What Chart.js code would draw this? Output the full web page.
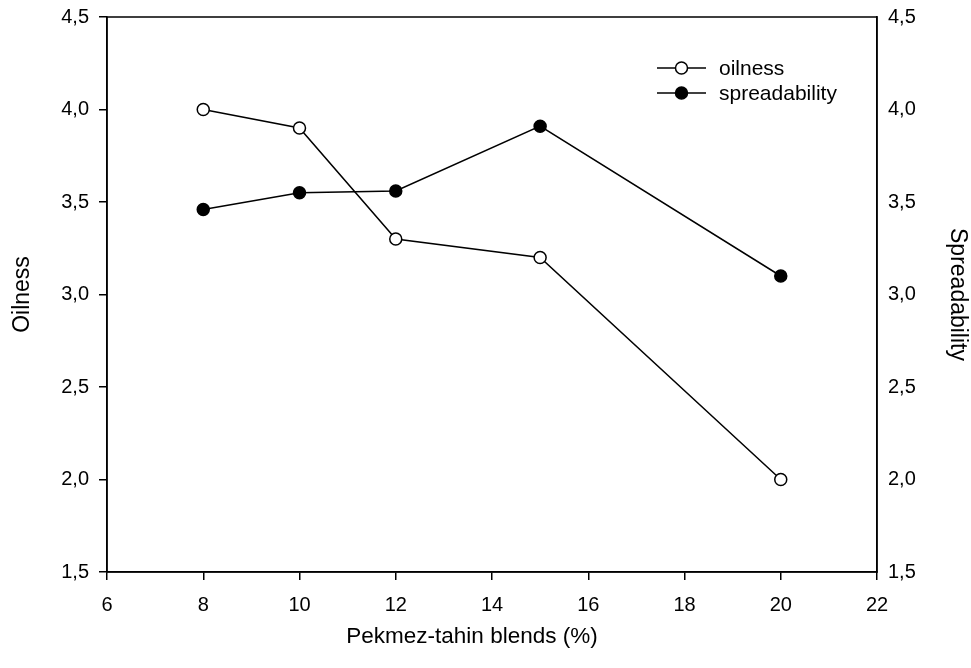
<!DOCTYPE html>
<html>
<head>
<meta charset="utf-8">
<script src="https://cdn.jsdelivr.net/npm/chart.js@4/dist/chart.umd.min.js"></script>
<style>
  html, body { margin: 0; padding: 0; background: #fff; }
  #wrap { width: 971px; height: 668px; }
</style>
</head>
<body>
<div id="wrap"><canvas id="blend-chart" width="971" height="668"></canvas></div>
<script>
// values
const blends = [8, 10, 12, 15, 20];
const oilness = [4.0, 3.9, 3.3, 3.2, 2.0];
const spreadability = [3.46, 3.55, 3.56, 3.91, 3.10];
const xTicks = [6, 8, 10, 12, 14, 16, 18, 20, 22];
const yTicks = [1.5, 2.0, 2.5, 3.0, 3.5, 4.0, 4.5];
const xTitle = 'Pekmez-tahin blends (%)';

const FONT = "'Liberation Sans', Arial, sans-serif";
const comma = v => Number(v).toFixed(1).replace('.', ',');

function pairs(ys) {
    return blends.map((x, i) => ({ x: x, y: ys[i] }));
}

/* frame round the plot area (top edge has no axis of its own) */
const frame = {
    id: 'frame',
    afterDraw(chart) {
        const a = chart.chartArea, ctx = chart.ctx;
        ctx.save();
        ctx.strokeStyle = '#000';
        ctx.lineWidth = 1.5;
        ctx.strokeRect(a.left, a.top, a.right - a.left, a.bottom - a.top);
        ctx.restore();
    }
};

/* x title sits a bit left of the plot centre in the original */
const bottomTitle = {
    id: 'bottomTitle',
    afterDraw(chart, args, opts) {
        const ctx = chart.ctx;
        ctx.save();
        ctx.fillStyle = '#000';
        ctx.font = opts.size + 'px ' + FONT;
        ctx.textAlign = 'center';
        ctx.textBaseline = 'middle';
        ctx.fillText(opts.text, opts.x, opts.y);
        ctx.restore();
    }
};

/* SigmaPlot-style legend: line - marker - line, then label */
const lineLegend = {
    id: 'lineLegend',
    afterDraw(chart, args, opts) {
        const ctx = chart.ctx;
        ctx.save();
        chart.data.datasets.forEach((ds, i) => {
            const y = opts.y + i * opts.gap;
            ctx.strokeStyle = '#000';
            ctx.lineWidth = 1.5;
            ctx.beginPath();
            ctx.moveTo(opts.x, y);
            ctx.lineTo(opts.x + opts.len, y);
            ctx.stroke();
            ctx.beginPath();
            ctx.arc(opts.x + opts.len / 2, y, ds.pointRadius, 0, Math.PI * 2);
            ctx.fillStyle = ds.pointBackgroundColor;
            ctx.fill();
            ctx.lineWidth = ds.pointBorderWidth;
            ctx.stroke();
            ctx.fillStyle = '#000';
            ctx.font = '21px ' + FONT;
            ctx.textBaseline = 'middle';
            ctx.fillText(ds.label, opts.x + opts.len + 13, y + 1);
        });
        ctx.restore();
    }
};

function fitY(width) {
    return s => {
        s.width = width;
        s.paddingTop = 0;
        s.paddingBottom = 0;
    };
}

function buildChart() {
    const canvas = document.getElementById('blend-chart');

    const common = {
        borderColor: '#000',
        borderWidth: 1.5,
        pointRadius: 6,
        pointHoverRadius: 6,
        pointBorderColor: '#000',
        pointBorderWidth: 1.5,
        showLine: true,
        tension: 0
    };

    const config = {
        type: 'scatter',
        data: {
            datasets: [
                Object.assign({ label: 'oilness', data: pairs(oilness), yAxisID: 'y',
                    pointBackgroundColor: '#fff', backgroundColor: '#fff' }, common),
                Object.assign({ label: 'spreadability', data: pairs(spreadability), yAxisID: 'y1',
                    pointBackgroundColor: '#000', backgroundColor: '#000' }, common)
            ]
        },
        options: {
            responsive: false,
            animation: false,
            layout: { padding: { top: 17, left: 0, right: 0, bottom: 0 } },
            scales: {
                x: {
                    type: 'linear',
                    min: 6, max: 22,
                    afterBuildTicks: s => { s.ticks = xTicks.map(v => ({ value: v })); },
                    afterFit: s => { s.height = 96; },
                    grid: { drawOnChartArea: false, drawTicks: true, tickLength: 8, color: '#000', lineWidth: 1.5 },
                    border: { display: true, color: '#000', width: 1.5 },
                    ticks: { color: '#000', padding: 13, maxRotation: 0, font: { family: FONT, size: 20 } },
                    title: { display: false }
                },
                y: {
                    type: 'linear', position: 'left',
                    min: 1.5, max: 4.5,
                    afterBuildTicks: s => { s.ticks = yTicks.map(v => ({ value: v })); },
                    afterFit: fitY(107),
                    grid: { drawOnChartArea: false, drawTicks: true, tickLength: 8, color: '#000', lineWidth: 1.5 },
                    border: { display: true, color: '#000', width: 1.5 },
                    ticks: { color: '#000', padding: 10, callback: comma, font: { family: FONT, size: 20 } },
                    title: { display: true, text: 'Oilness', color: '#000',
                        font: { family: FONT, size: 23 }, padding: { top: 9, bottom: 0 } }
                },
                y1: {
                    type: 'linear', position: 'right',
                    min: 1.5, max: 4.5,
                    afterBuildTicks: s => { s.ticks = yTicks.map(v => ({ value: v })); },
                    afterFit: fitY(94),
                    grid: { drawOnChartArea: false, drawTicks: false },
                    border: { display: true, color: '#000', width: 1.5 },
                    ticks: { color: '#000', padding: 11, callback: comma, font: { family: FONT, size: 20 } },
                    title: { display: true, text: 'Spreadability', color: '#000',
                        font: { family: FONT, size: 23 }, padding: { top: 0, bottom: 0 } }
                }
            },
            plugins: {
                legend: { display: false },
                tooltip: { enabled: false },
                lineLegend: { x: 657, y: 68, len: 49, gap: 25 },
                bottomTitle: { text: xTitle, x: 472, y: 637, size: 22.5 }
            }
        },
        plugins: [frame, lineLegend, bottomTitle]
    };

    new Chart(canvas, config);
}

buildChart();
</script>
</body>
</html>
